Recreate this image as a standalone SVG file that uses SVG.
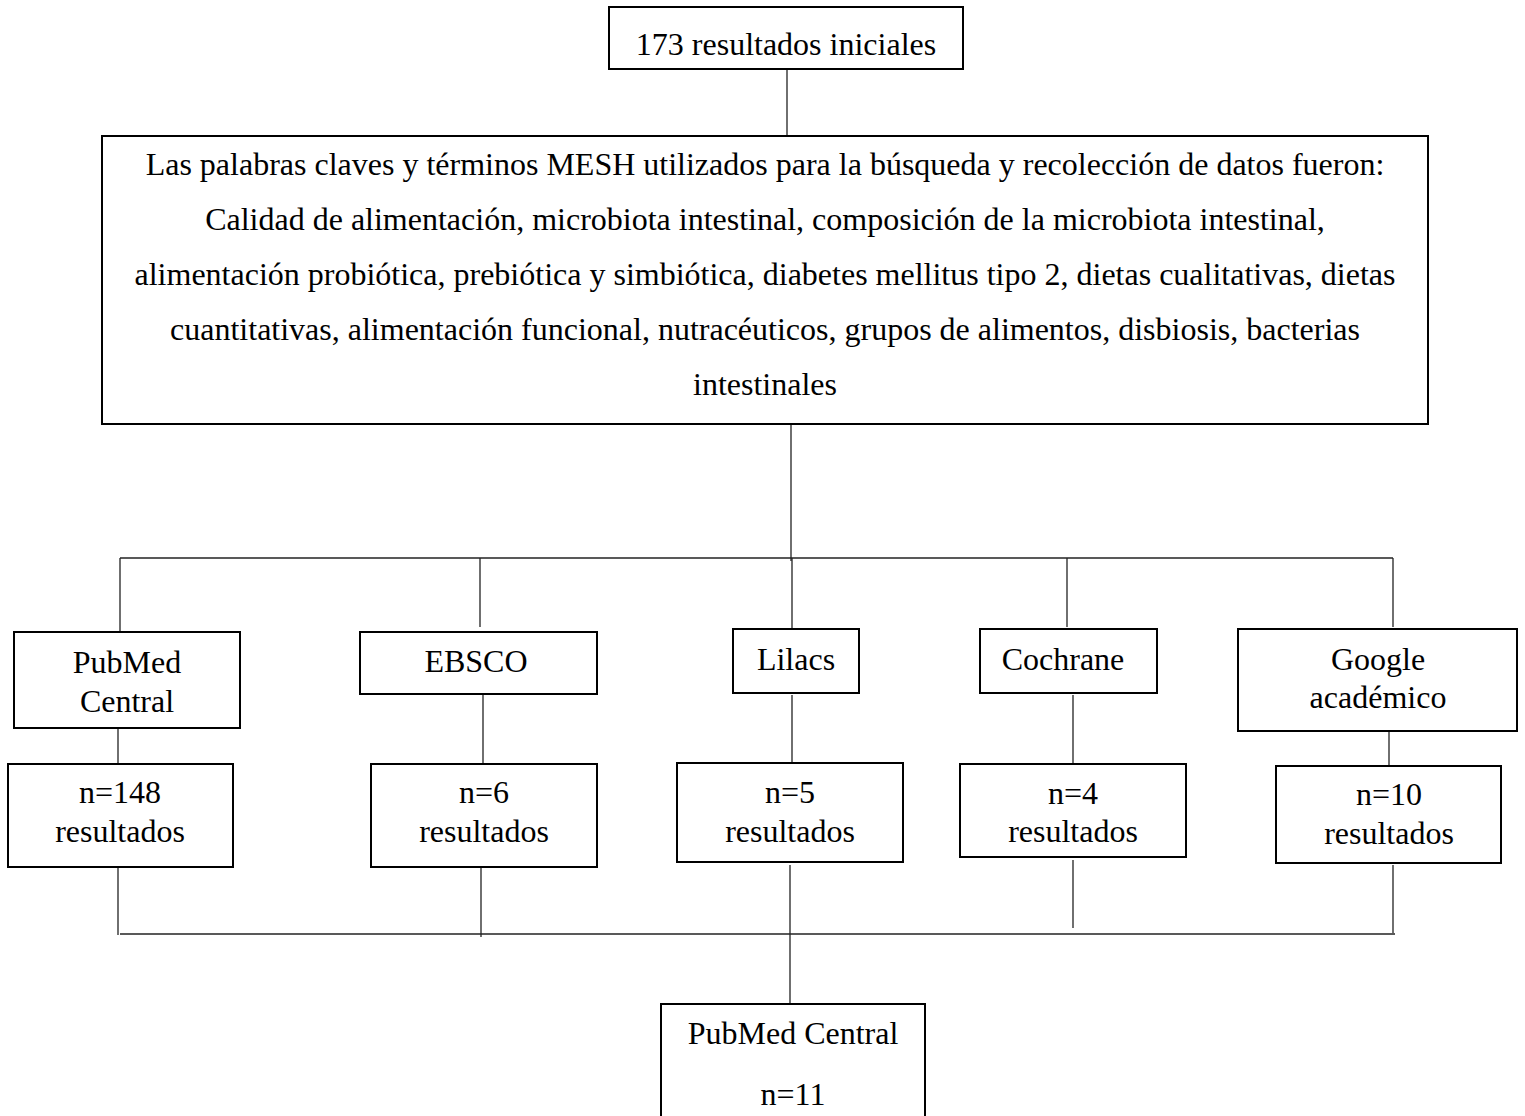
<svg xmlns="http://www.w3.org/2000/svg" width="1525" height="1116" viewBox="0 0 1525 1116">
<style>
.box{fill:#fff;stroke:#000;stroke-width:2}
.t{font-family:"Liberation Serif","Times New Roman",serif;font-size:32px;fill:#000;text-anchor:middle}
.c{stroke:#222;stroke-width:1.3;fill:none}
</style>
<rect width="1525" height="1116" fill="#fff"/>
<g id="connectors">
<line class="c" x1="787" y1="69" x2="787" y2="136"/>
<line class="c" x1="791" y1="424" x2="791" y2="561"/>
<line class="c" x1="120" y1="558" x2="1393" y2="558"/>
<line class="c" x1="120" y1="558" x2="120" y2="631"/>
<line class="c" x1="480" y1="558" x2="480" y2="627"/>
<line class="c" x1="792" y1="558" x2="792" y2="628"/>
<line class="c" x1="1067" y1="558" x2="1067" y2="627"/>
<line class="c" x1="1393" y1="558" x2="1393" y2="627"/>
<line class="c" x1="118" y1="728" x2="118" y2="764"/>
<line class="c" x1="483" y1="694" x2="483" y2="764"/>
<line class="c" x1="792" y1="695" x2="792" y2="763"/>
<line class="c" x1="1073" y1="695" x2="1073" y2="764"/>
<line class="c" x1="1389" y1="731" x2="1389" y2="766"/>
<line class="c" x1="118" y1="867" x2="118" y2="935"/>
<line class="c" x1="481" y1="867" x2="481" y2="937"/>
<line class="c" x1="790" y1="865" x2="790" y2="1004"/>
<line class="c" x1="1073" y1="860" x2="1073" y2="928"/>
<line class="c" x1="1393" y1="865" x2="1393" y2="933"/>
<line class="c" x1="120" y1="934" x2="1395" y2="934"/>
</g>
<g id="n-inicial">
<rect class="box" x="609" y="7" width="354" height="62"/>
<text class="t" x="786" y="55">173 resultados iniciales</text>
</g>
<g id="n-palabras">
<rect class="box" x="102" y="136" width="1326" height="288"/>
<text class="t" x="765" y="175">Las palabras claves y términos MESH utilizados para la búsqueda y recolección de datos fueron:</text>
<text class="t" x="765" y="230">Calidad de alimentación, microbiota intestinal, composición de la microbiota intestinal,</text>
<text class="t" x="765" y="285">alimentación probiótica, prebiótica y simbiótica, diabetes mellitus tipo 2, dietas cualitativas, dietas</text>
<text class="t" x="765" y="340">cuantitativas, alimentación funcional, nutracéuticos, grupos de alimentos, disbiosis, bacterias</text>
<text class="t" x="765" y="395">intestinales</text>
</g>
<g id="n-pubmed">
<rect class="box" x="14" y="632" width="226" height="96"/>
<text class="t" x="127" y="673">PubMed</text>
<text class="t" x="127" y="712">Central</text>
</g>
<g id="n-ebsco">
<rect class="box" x="360" y="632" width="237" height="62"/>
<text class="t" x="476" y="672">EBSCO</text>
</g>
<g id="n-lilacs">
<rect class="box" x="733" y="629" width="126" height="64"/>
<text class="t" x="796" y="670">Lilacs</text>
</g>
<g id="n-cochrane">
<rect class="box" x="980" y="629" width="177" height="64"/>
<text class="t" x="1063" y="670">Cochrane</text>
</g>
<g id="n-google">
<rect class="box" x="1238" y="629" width="279" height="102"/>
<text class="t" x="1378" y="670">Google</text>
<text class="t" x="1378" y="708">académico</text>
</g>
<g id="n-r148">
<rect class="box" x="8" y="764" width="225" height="103"/>
<text class="t" x="120" y="803">n=148</text>
<text class="t" x="120" y="842">resultados</text>
</g>
<g id="n-r6">
<rect class="box" x="371" y="764" width="226" height="103"/>
<text class="t" x="484" y="803">n=6</text>
<text class="t" x="484" y="842">resultados</text>
</g>
<g id="n-r5">
<rect class="box" x="677" y="763" width="226" height="99"/>
<text class="t" x="790" y="803">n=5</text>
<text class="t" x="790" y="842">resultados</text>
</g>
<g id="n-r4">
<rect class="box" x="960" y="764" width="226" height="93"/>
<text class="t" x="1073" y="804">n=4</text>
<text class="t" x="1073" y="842">resultados</text>
</g>
<g id="n-r10">
<rect class="box" x="1276" y="766" width="225" height="97"/>
<text class="t" x="1389" y="805">n=10</text>
<text class="t" x="1389" y="844">resultados</text>
</g>
<g id="n-final">
<rect class="box" x="661" y="1004" width="264" height="130"/>
<text class="t" x="793" y="1044">PubMed Central</text>
<text class="t" x="793" y="1105">n=11</text>
</g>
</svg>
